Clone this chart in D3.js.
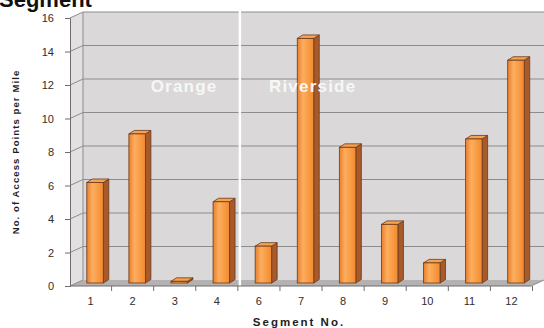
<!DOCTYPE html>
<html>
<head>
<meta charset="utf-8">
<script src="https://cdn.jsdelivr.net/npm/d3@7/dist/d3.min.js"></script>
<style>
  html, body { margin: 0; padding: 0; background: #ffffff; }
  svg { display: block; font-family: "Liberation Sans", Arial, sans-serif; }
</style>
</head>
<body>
<svg id="chart" width="544" height="328"></svg>
<script>
// Access points per mile, by corridor segment
const categories = ["1", "2", "3", "4", "6", "7", "8", "9", "10", "11", "12"];
const accessPoints = [6.0, 8.9, 0.1, 4.85, 2.2, 14.6, 8.1, 3.5, 1.2, 8.6, 13.3];
const yTicks = [0, 2, 4, 6, 8, 10, 12, 14, 16];
const regionNames = ["Orange", "Riverside"];
const regionStart = ["1", "6"];

const svg = d3.select("#chart");

// 3-D frame geometry
const wallDX = 13, wallDY = -6;     // depth offset of back wall
const barDX = 4.5, barDY = -3;      // bars sit part-way into the depth
const sideDX = 5.5, sideDY = -3.5;  // bar thickness
const barW = 16.5;

const x = d3.scaleBand().domain(categories).range([69.5, 532.5]);
const y = d3.scaleLinear().domain([0, 16]).range([286, 18]);

const plotLeft = 70, plotRight = 531;

// gradients
const defs = svg.append("defs");
const gFront = defs.append("linearGradient").attr("id", "barFront")
  .attr("x1", "0").attr("x2", "1").attr("y1", "0").attr("y2", "0");
gFront.append("stop").attr("offset", "0").attr("stop-color", "#e97f2c");
gFront.append("stop").attr("offset", "0.35").attr("stop-color", "#fcae60");
gFront.append("stop").attr("offset", "0.75").attr("stop-color", "#f8983e");
gFront.append("stop").attr("offset", "1").attr("stop-color", "#ee8a34");

// left side wall
svg.append("polygon")
  .attr("points", [[plotLeft, y(16)], [plotLeft + wallDX, y(16) + wallDY], [plotLeft + wallDX, y(0) + wallDY], [plotLeft, y(0)]].join(" "))
  .attr("fill", "#e2e0e0");

// back wall
svg.append("rect")
  .attr("x", plotLeft + wallDX).attr("y", y(16) + wallDY)
  .attr("width", 544 - plotLeft - wallDX).attr("height", y(0) - y(16))
  .attr("fill", "#dad8d8");

// floor
svg.append("polygon")
  .attr("points", [[plotLeft, y(0)], [plotRight, y(0)], [plotRight + wallDX, y(0) + wallDY], [plotLeft + wallDX, y(0) + wallDY]].join(" "))
  .attr("fill", "#b3b1b1");

// gridlines: back wall and side wall
const grid = svg.append("g").attr("stroke", "#8d8b8b").attr("stroke-width", 1).attr("fill", "none");
grid.selectAll("line.back").data(yTicks.filter(d => d > 0)).join("line")
  .attr("class", "back")
  .attr("x1", plotLeft + wallDX).attr("x2", 544)
  .attr("y1", d => y(d) + wallDY).attr("y2", d => y(d) + wallDY);
grid.selectAll("line.side").data(yTicks).join("line")
  .attr("class", "side")
  .attr("x1", plotLeft).attr("x2", plotLeft + wallDX)
  .attr("y1", d => y(d)).attr("y2", d => y(d) + wallDY);
grid.append("line")
  .attr("x1", plotLeft + wallDX).attr("x2", plotLeft + wallDX)
  .attr("y1", y(16) + wallDY).attr("y2", y(0) + wallDY);
grid.append("line")
  .attr("x1", plotRight).attr("x2", plotRight + wallDX)
  .attr("y1", y(0)).attr("y2", y(0) + wallDY);

// region divider
const divX = x(regionStart[1]) + 2;
svg.append("line")
  .attr("x1", divX).attr("x2", divX)
  .attr("y1", y(16) + wallDY - 1).attr("y2", y(0) + 4)
  .attr("stroke", "#ffffff").attr("stroke-width", 2.5);

// bars
const bars = svg.append("g").selectAll("g.bar")
  .data(categories.map((c, i) => ({ c, v: accessPoints[i] })))
  .join("g").attr("class", "bar");

const bx = d => x(d.c) + x.bandwidth() / 2 + barDX - barW / 2;
const barBase = y(0) + barDY;
const barTop = d => y(d.v) + barDY;

bars.append("polygon") // side
  .attr("points", d => [[bx(d) + barW, barTop(d)], [bx(d) + barW + sideDX, barTop(d) + sideDY],
    [bx(d) + barW + sideDX, barBase + sideDY], [bx(d) + barW, barBase]].join(" "))
  .attr("fill", "#a85a2a").attr("stroke", "#6a3a1c").attr("stroke-width", 0.8);
bars.append("polygon") // top
  .attr("points", d => [[bx(d), barTop(d)], [bx(d) + sideDX, barTop(d) + sideDY],
    [bx(d) + barW + sideDX, barTop(d) + sideDY], [bx(d) + barW, barTop(d)]].join(" "))
  .attr("fill", "#f6a24f").attr("stroke", "#6a3a1c").attr("stroke-width", 0.8);
bars.append("rect") // front
  .attr("x", bx).attr("y", barTop)
  .attr("width", barW).attr("height", d => barBase - barTop(d))
  .attr("fill", "url(#barFront)").attr("stroke", "#6a3a1c").attr("stroke-width", 0.8);

// region labels, written over the bars
const regionX = [x("3") - 3, x("7") - 11];
svg.selectAll("text.region").data(regionNames).join("text")
  .attr("class", "region")
  .attr("x", (d, i) => regionX[i])
  .attr("y", 92)
  .attr("fill", "#f7f7f7")
  .attr("font-size", 17).attr("font-weight", "bold")
  .attr("letter-spacing", 1.2)
  .text(d => d);

// y axis
const yAxis = svg.append("g").attr("transform", `translate(${plotLeft},0)`)
  .call(d3.axisLeft(y).tickValues(yTicks).tickSize(5).tickPadding(11).tickFormat(d3.format("d")));
yAxis.select(".domain").attr("stroke", "#6f6d6d");
yAxis.selectAll(".tick line").attr("stroke", "#6f6d6d");
yAxis.selectAll(".tick text").attr("font-size", 11).attr("fill", "#2e2e2e")
  .attr("font-family", "Liberation Sans, Arial, sans-serif");

// x axis
const xAxis = svg.append("g").attr("transform", `translate(0,${y(0)})`)
  .call(d3.axisBottom(x).tickSize(0).tickPadding(11));
xAxis.select(".domain").remove();
xAxis.selectAll(".tick text").attr("font-size", 11).attr("fill", "#2e2e2e")
  .attr("font-family", "Liberation Sans, Arial, sans-serif");
svg.append("line")
  .attr("x1", plotLeft).attr("x2", plotRight).attr("y1", y(0)).attr("y2", y(0))
  .attr("stroke", "#6f6d6d");
svg.append("g").selectAll("line").data(categories).join("line")
  .attr("x1", d => x(d) + x.bandwidth()).attr("x2", d => x(d) + x.bandwidth())
  .attr("y1", y(0)).attr("y2", y(0) + 5)
  .attr("stroke", "#6f6d6d");

// axis titles
svg.append("text")
  .attr("x", 299).attr("y", 326)
  .attr("text-anchor", "middle")
  .attr("font-size", 11.5).attr("font-weight", "bold").attr("letter-spacing", 2)
  .attr("fill", "#222")
  .text("Segment No.");

svg.append("text")
  .attr("transform", "translate(19,152) rotate(-90)")
  .attr("text-anchor", "middle")
  .attr("font-size", 9.5).attr("font-weight", "bold").attr("letter-spacing", 1.1)
  .attr("fill", "#1e1e1e")
  .text("No. of Access Points per Mile");

// chart title (runs off the top edge)
svg.append("text")
  .attr("x", -1).attr("y", 7)
  .attr("font-size", 22).attr("font-weight", "bold")
  .attr("fill", "#111")
  .text("Segment");
</script>
</body>
</html>
